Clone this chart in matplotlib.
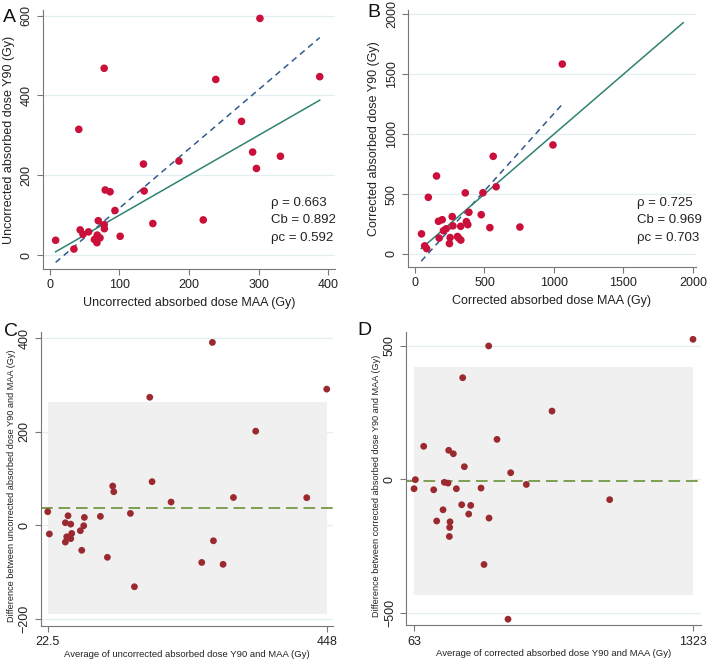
import numpy as np
import matplotlib.pyplot as plt

plt.rcParams['font.family'] = ['Liberation Sans', 'DejaVu Sans']

# Panel A: uncorrected absorbed dose (Gy), MAA vs Y90
unc_maa = [8.2, 34.5, 41.5, 78, 302, 238.5, 388, 275.5, 331.5, 291.5,
           297, 185.5, 134.5, 220.5, 135.5, 79.5, 86.5, 148, 93.5, 69.5,
           78, 101, 78.3, 43.5, 47.5, 55.5, 68, 64, 72, 67.6]
unc_y90 = [37, 15, 315, 468, 593, 440, 447, 335, 247.5, 258,
           217, 235.5, 228, 88, 160.5, 163, 158.5, 79, 111.5, 86,
           76, 47, 66, 63, 52, 58, 50, 39, 43, 31]

# Panel B: corrected absorbed dose (Gy)
cor_maa = [1060, 993, 563, 155, 96, 362, 489, 584, 388, 477,
           268, 169, 196, 370, 380, 329, 273, 205, 224, 539,
           755, 47, 174, 253, 306, 314, 330, 248, 70, 84]
cor_y90 = [1585, 910, 815, 651, 473, 510, 511, 561, 348, 328,
           312, 273, 286, 270, 245, 231, 235, 194, 210, 220,
           225, 168, 133, 137, 146, 134, 116, 87, 68, 45]

# Panel C: Bland-Altman, uncorrected
unc_avg = [22.5, 25, 178.1, 273.6, 448, 339.7, 417.5, 305.7, 289.9, 275.2,
           257.4, 210.6, 181.6, 154.7, 148.6, 121.6, 123.2, 113.5, 102.8, 78.4,
           77.4, 74.4, 72.3, 53.5, 49.4, 57.6, 59.1, 51.5, 57.6, 49.4]
unc_diff = [28.6, -19, 273.6, 391, 291, 201, 58.6, 59, -84, -33.6,
            -80, 49.3, 92.9, -132, 25, 83.6, 71.4, -69, 18.6, 16.4,
            -1.4, -54, -12, 20, 5, 2, -17.9, -25, -29, -36.4]

# Panel D: Bland-Altman, corrected
cor_avg = [1323, 400.2, 282.8, 686.2, 437.8, 106.7, 219.6, 240.6, 290.3, 69,
           63, 499.5, 570.3, 151.8, 200, 216.5, 254.2, 365.6, 278.3, 318.9,
           194, 309.9, 401.7, 165.4, 225.6, 224, 222.6, 379.1, 946.6, 487.5]
cor_diff = [525, 500, 381, 256, 150, 124, 109, 96, 47.5, -1,
            -35, 25, -19, -39, -11, -14, -35, -32.5, -95, -97.5,
            -114, -130, -145, -156, -159, -180, -214, -319, -76, -524]

# reduced major axis (intercept, slope) and x-ranges of the lines
unc_rma = (-30.6, 1.483)
unc_rma_range = (8.2, 388)
unc_eq_range = (8.2, 388)
cor_rma = (-118, 1.29)
cor_rma_range = (45, 1060)
cor_eq_range = (45, 1930)

unc_stats = ['\u03c1 = 0.663', 'Cb = 0.892', '\u03c1c = 0.592']
cor_stats = ['\u03c1 = 0.725', 'Cb = 0.969', '\u03c1c = 0.703']

# Bland-Altman mean difference and limits of agreement
unc_mean_diff = 36.4
unc_loa = (-191, 264)
cor_mean_diff = -5
cor_loa = (-434, 422.5)

RED = '#c90f3a'
DARKRED = '#9b2a30'
GRID = '#e3eef0'
SPINE = '#777777'


def style_axes(ax, fs=9):
    for s in ['top', 'right']:
        ax.spines[s].set_visible(False)
    for s in ['left', 'bottom']:
        ax.spines[s].set_color(SPINE)
        ax.spines[s].set_linewidth(0.8)
    ax.tick_params(colors=SPINE, labelcolor='#222222', labelsize=fs,
                   length=4, width=0.8)
    ax.yaxis.grid(True, color=GRID, linewidth=0.9, zorder=0)
    ax.set_axisbelow(True)
    plt.setp(ax.get_yticklabels(), rotation=90, va='center')


fig = plt.figure(figsize=(7.08, 6.59), dpi=100)

# ---- A ----
ax = fig.add_axes([0.0607, 0.5918, 0.4125, 0.393])
ax.set_xlim(-10, 410)
ax.set_ylim(-35, 614)
ax.set_xticks([0, 100, 200, 300, 400])
ax.set_yticks([0, 200, 400, 600])
xs = np.array(unc_rma_range)
ax.plot(xs, unc_rma[0] + unc_rma[1] * xs, color='#2f5b8c', lw=1.1,
        dashes=(4, 3), zorder=2)
xe = np.array(unc_eq_range)
ax.plot(xe, xe, color='#2f8272', lw=1.1, zorder=2)
ax.scatter(unc_maa, unc_y90, s=30, color=RED, edgecolors='none', zorder=3)
for txt, yv in zip(unc_stats, [122.9, 81, 35.9]):
    ax.text(318, yv, txt, fontsize=9.5, va='baseline', ha='left', color='#222222')
ax.set_xlabel('Uncorrected absorbed dose MAA (Gy)', fontsize=9, color='#222222')
ax.set_ylabel('Uncorrected absorbed dose Y90 (Gy)', fontsize=9, color='#222222')
style_axes(ax)

# ---- B ----
ax = fig.add_axes([0.5767, 0.5953, 0.4059, 0.3895])
ax.set_xlim(-48, 2020)
ax.set_ylim(-106, 2036)
ax.set_xticks([0, 500, 1000, 1500, 2000])
ax.set_yticks([0, 500, 1000, 1500, 2000])
xs = np.array(cor_rma_range)
ax.plot(xs, cor_rma[0] + cor_rma[1] * xs, color='#2f5b8c', lw=1.1,
        dashes=(4, 3), zorder=2)
xe = np.array(cor_eq_range)
ax.plot(xe, xe, color='#2f8272', lw=1.1, zorder=2)
ax.scatter(cor_maa, cor_y90, s=30, color=RED, edgecolors='none', zorder=3)
for txt, yv in zip(cor_stats, [400.5, 261, 111]):
    ax.text(1595, yv, txt, fontsize=9.5, va='baseline', ha='left', color='#222222')
ax.set_xlabel('Corrected absorbed dose MAA (Gy)', fontsize=9, color='#222222')
ax.set_ylabel('Corrected absorbed dose Y90 (Gy)', fontsize=9, color='#222222')
style_axes(ax)

# ---- C ----
ax = fig.add_axes([0.0575, 0.0501, 0.4129, 0.4466])
ax.set_xlim(11.8, 457.6)
ax.set_ylim(-216, 414)
ax.set_xticks([22.5, 448])
ax.set_xticklabels(['22.5', '448'])
ax.set_yticks([-200, 0, 200, 400])
ax.fill_between([min(unc_avg), max(unc_avg)], unc_loa[0], unc_loa[1],
                color='#f0f0f0', lw=0, zorder=1)
ax.axhline(unc_mean_diff, xmin=0, xmax=1, color='#7c9f52', lw=1.4,
           dashes=(6, 3), zorder=2)
ax.scatter(unc_avg, unc_diff, s=24, color=DARKRED, edgecolors='none', zorder=3)
ax.set_xlabel('Average of uncorrected absorbed dose Y90 and MAA (Gy)',
              fontsize=6.8, color='#222222', labelpad=1)
ax.set_ylabel('Difference between uncorrected absorbed dose Y90 and MAA (Gy)',
              fontsize=6.6, color='#222222', labelpad=2)
ax.yaxis.label.set_y(0.475)
style_axes(ax)

# ---- D ----
ax = fig.add_axes([0.5739, 0.0511, 0.4158, 0.4456])
ax.set_xlim(28.2, 1357.8)
ax.set_ylim(-547, 553.6)
ax.set_xticks([63, 1323])
ax.set_yticks([-500, 0, 500])
ax.fill_between([min(cor_avg), max(cor_avg)], cor_loa[0], cor_loa[1],
                color='#f0f0f0', lw=0, zorder=1)
ax.axhline(cor_mean_diff, xmin=0, xmax=1, color='#7c9f52', lw=1.4,
           dashes=(6, 3), zorder=2)
ax.scatter(cor_avg, cor_diff, s=24, color=DARKRED, edgecolors='none', zorder=3)
ax.set_xlabel('Average of corrected absorbed dose Y90 and MAA (Gy)',
              fontsize=6.8, color='#222222', labelpad=1)
ax.set_ylabel('Difference between corrected absorbed dose Y90 and MAA (Gy)',
              fontsize=6.6, color='#222222', labelpad=2)
ax.yaxis.label.set_y(0.475)
style_axes(ax)

# panel letters
for letter, (px, py) in zip('ABCD', [(3, 22), (367, 17), (4, 336), (357, 335)]):
    fig.text(px / 708, 1 - py / 659, letter, fontsize=14, color='#111111',
             va='baseline', ha='left')

fig.savefig('out.png', dpi=100)
